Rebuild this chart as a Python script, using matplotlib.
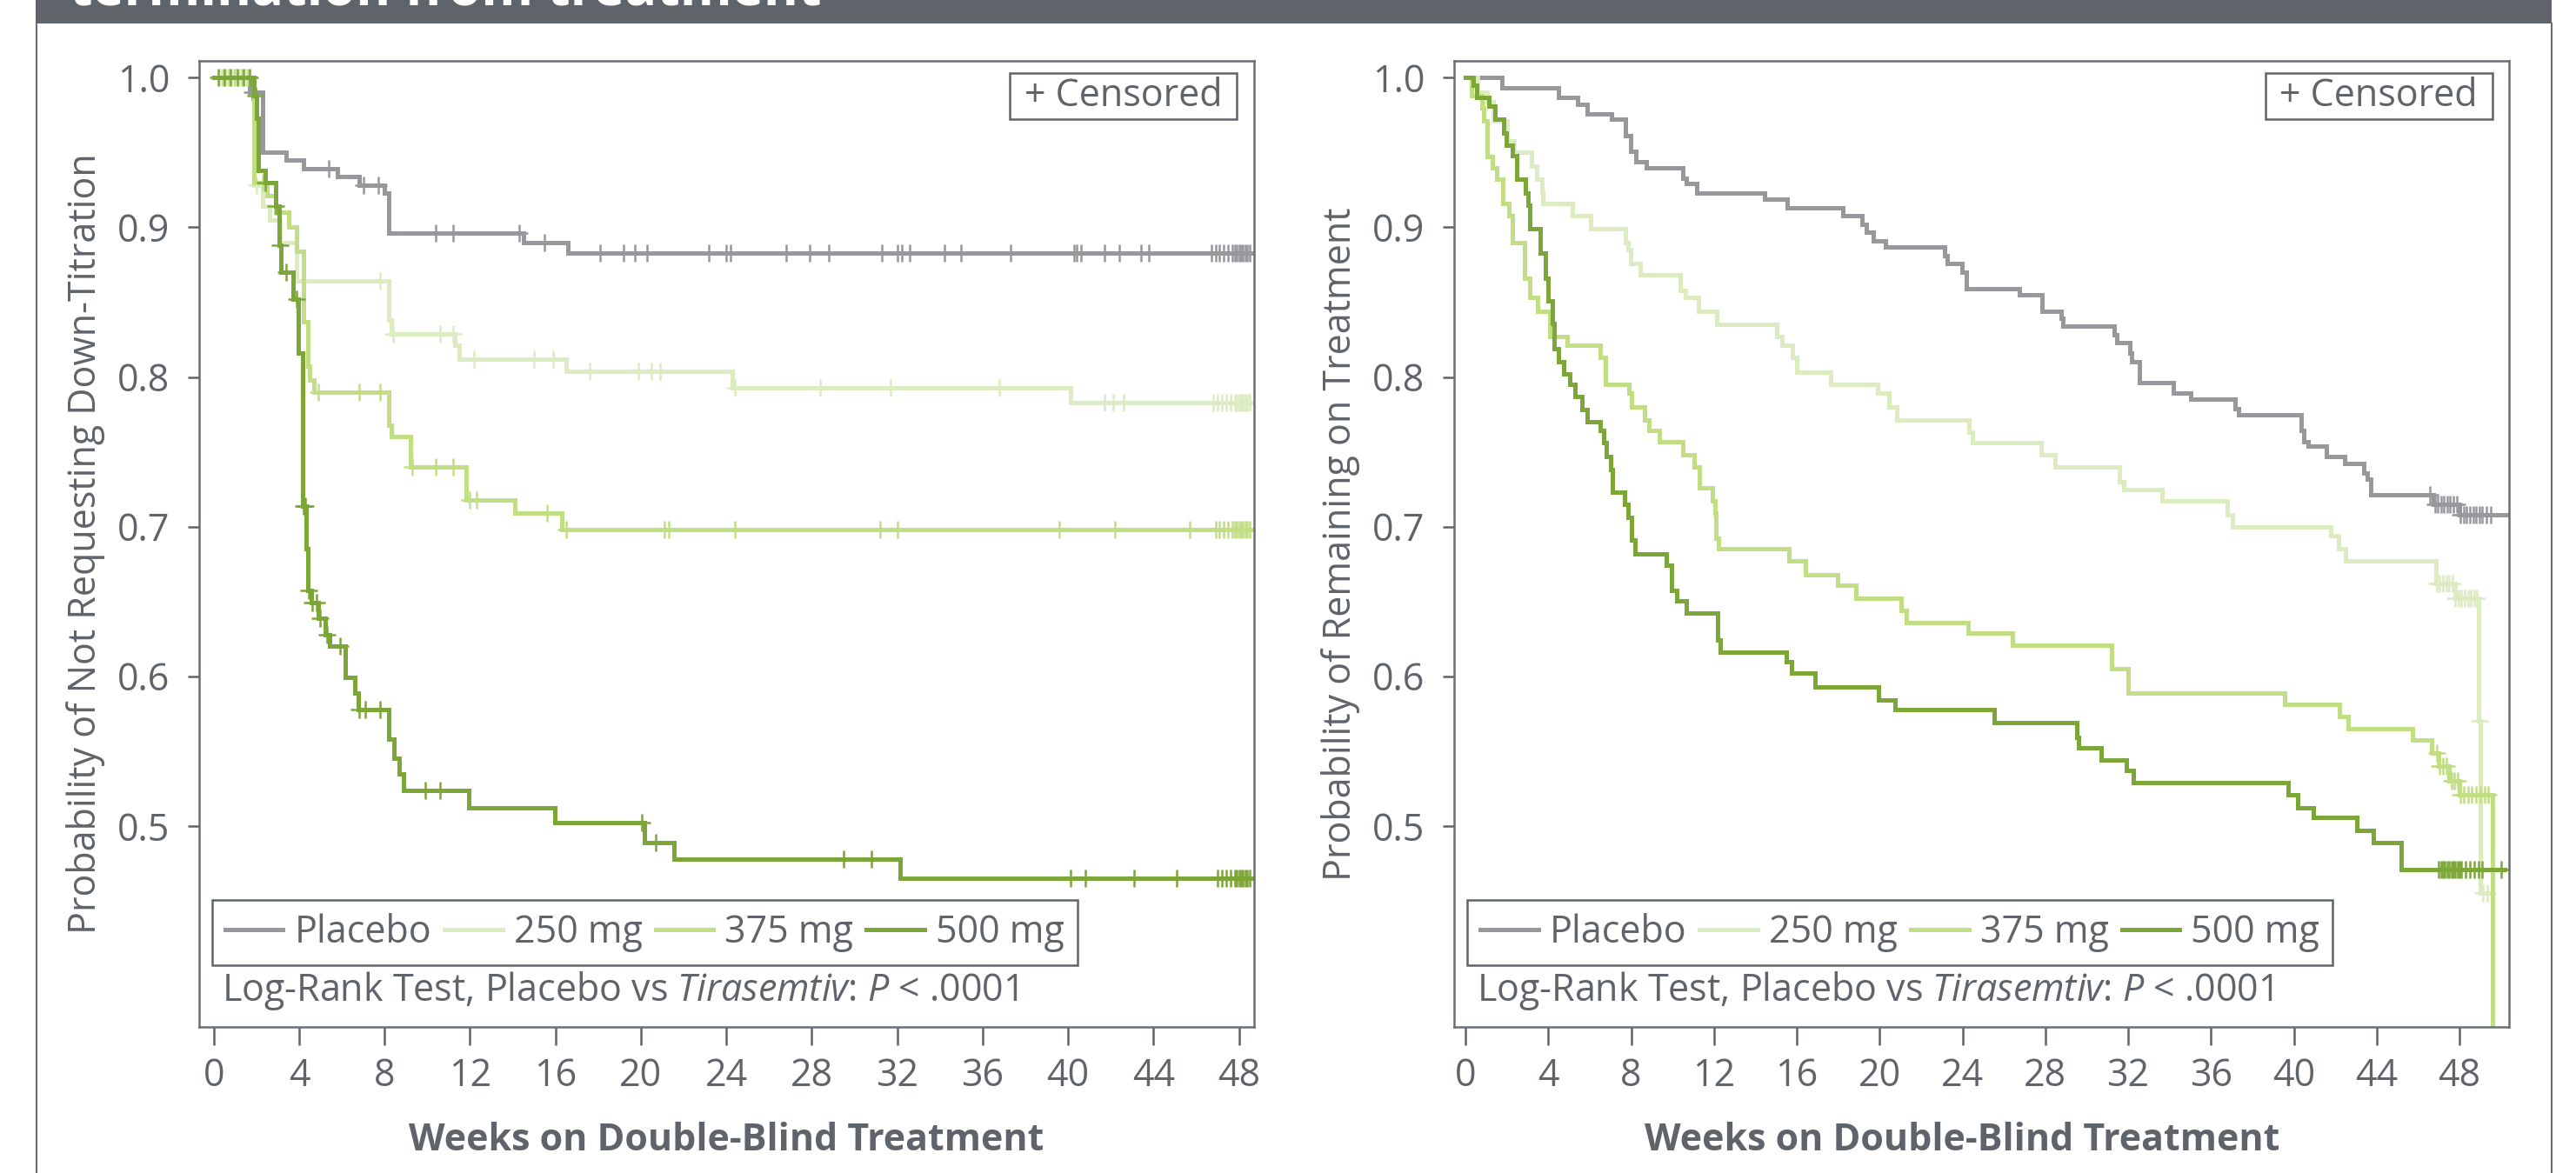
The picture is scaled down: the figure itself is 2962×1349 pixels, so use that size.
import matplotlib.pyplot as plt
import numpy as np
from matplotlib.patches import Rectangle
from matplotlib.lines import Line2D
from matplotlib.ticker import FormatStrFormatter
import matplotlib.transforms as mtransforms

plt.rcParams['font.family'] = ['Open Sans', 'DejaVu Sans']
plt.rcParams['mathtext.fontset'] = 'custom'
plt.rcParams['mathtext.rm'] = 'Open Sans'
plt.rcParams['mathtext.it'] = 'Open Sans:italic'

groups = ['Placebo', '250 mg', '375 mg', '500 mg']
colors = ['#97989c', '#dcebc0', '#c2de84', '#7ca637']
GRAY = '#5f636a'

# ---- left panel: probability of not requesting down-titration (weeks, survival)
left_placebo_t = [1.7, 2.3, 3.4, 4.2, 5.8, 6.8, 8.0, 8.2, 14.5, 16.6]
left_placebo_s = [0.990, 0.950, 0.945, 0.939, 0.934, 0.928, 0.923, 0.896, 0.890, 0.883]
left_placebo_c = [1.8, 5.4, 7.0, 7.7, 10.4, 11.2, 14.3, 15.5, 18.1, 19.2, 19.7, 20.3, 23.2, 24.0,
                  24.2, 26.8, 27.9, 28.8, 31.3, 32.0, 32.2, 32.6, 34.2, 35.0, 37.3, 40.3, 40.4,
                  40.6, 41.7, 42.4, 43.4, 43.8, 46.7, 46.9, 47.1, 47.3, 47.5, 47.7, 47.8, 47.9,
                  48.0, 48.1, 48.2, 48.3, 48.4, 48.5]

left_250_t = [1.9, 2.3, 2.6, 3.1, 3.9, 8.2, 8.3, 11.3, 11.5, 16.5, 24.3, 40.1]
left_250_s = [0.928, 0.914, 0.905, 0.890, 0.864, 0.838, 0.829, 0.821, 0.812, 0.804, 0.793, 0.783]
left_250_c = [0.3, 0.6, 0.9, 1.2, 1.5, 2.0, 7.8, 8.4, 10.6, 11.2, 12.2, 15.0, 15.9, 17.6, 19.9,
              20.5, 20.9, 24.4, 28.4, 31.7, 36.8, 41.7, 42.1, 42.6, 46.8, 47.0, 47.2, 47.4, 47.6,
              47.8, 47.9, 48.0, 48.1, 48.2, 48.3, 48.4, 48.5]

left_375_t = [1.9, 2.5, 2.9, 3.5, 3.9, 4.2, 4.4, 4.5, 4.7, 8.2, 8.3, 9.2, 11.8, 14.1, 16.3]
left_375_s = [0.930, 0.921, 0.910, 0.900, 0.884, 0.837, 0.807, 0.798, 0.790, 0.768, 0.760,
              0.740, 0.718, 0.709, 0.698]
left_375_c = [0.4, 0.7, 1.0, 1.3, 1.6, 2.3, 4.9, 6.8, 7.8, 9.3, 10.4, 11.2, 12.0, 12.3, 15.6,
              16.5, 21.1, 21.3, 24.4, 31.2, 32.0, 39.6, 42.2, 45.7, 46.9, 47.1, 47.3, 47.5, 47.7,
              47.8, 47.9, 48.0, 48.1, 48.2, 48.3, 48.4, 48.5]

left_500_t = [1.9, 2.0, 2.1, 2.4, 2.9, 3.06, 3.15, 3.7, 3.98, 4.15, 4.33, 4.39, 4.56, 4.9, 5.24,
              5.41, 6.15, 6.59, 6.76, 8.21, 8.45, 8.69, 8.89, 11.93, 15.99, 20.18, 21.57, 32.12]
left_500_s = [0.988, 0.973, 0.938, 0.930, 0.914, 0.888, 0.870, 0.852, 0.816, 0.714, 0.685, 0.6575,
              0.649, 0.639, 0.628, 0.620, 0.599, 0.589, 0.578, 0.558, 0.545, 0.535, 0.524, 0.512,
              0.502, 0.489, 0.478, 0.465]
left_500_c = [0.2, 0.5, 0.8, 1.1, 1.4, 1.7, 1.95, 2.4, 2.9, 3.1, 3.4, 3.9, 4.2, 4.3, 4.45, 4.6,
              4.8, 5.0, 5.3, 5.9, 6.8, 7.1, 7.8, 9.9, 10.6, 20.05, 20.7, 29.5, 30.8, 40.1, 40.8,
              43.1, 45.1, 47.0, 47.2, 47.4, 47.6, 47.8, 47.9, 48.0, 48.1, 48.2, 48.3, 48.4, 48.5]
left_end = [48.6, 48.6, 48.6, 48.6]

# ---- right panel: probability of remaining on treatment
right_placebo_t = [1.75, 4.49, 5.43, 5.88, 7.06, 7.71, 7.96, 8.24, 8.75, 10.49, 10.68, 11.18,
                   14.43, 15.55, 18.22, 19.15, 19.34, 19.71, 20.28, 23.15, 23.28, 23.99, 24.18,
                   26.75, 27.84, 28.75, 28.83, 31.32, 31.47, 32.07, 32.17, 32.56, 34.19, 35.04,
                   37.17, 37.31, 40.36, 40.5, 40.67, 41.57, 42.46, 43.38, 43.55, 43.73, 46.75, 48.0]
right_placebo_s = [0.993, 0.987, 0.982, 0.976, 0.972, 0.961, 0.951, 0.944, 0.940, 0.933, 0.929,
                   0.923, 0.919, 0.913, 0.908, 0.902, 0.897, 0.891, 0.887, 0.881, 0.876, 0.870,
                   0.859, 0.855, 0.844, 0.839, 0.834, 0.828, 0.823, 0.816, 0.810, 0.796, 0.789,
                   0.785, 0.779, 0.775, 0.764, 0.757, 0.754, 0.747, 0.742, 0.736, 0.732, 0.721,
                   0.715, 0.708]
right_placebo_c = [46.57, 46.8, 46.95, 47.1, 47.25, 47.4, 47.55, 47.7, 47.85, 48.05, 48.2, 48.35,
                   48.5, 48.65, 48.8, 48.95, 49.1, 49.3, 49.5]

right_250_t = [0.6, 1.06, 1.34, 2.0, 2.37, 3.21, 3.44, 3.68, 3.74, 5.18, 6.06, 7.71, 7.86, 7.99,
               8.46, 10.38, 10.62, 11.24, 12.12, 15.03, 15.27, 15.78, 16.0, 17.65, 19.9, 20.43,
               20.84, 24.3, 24.46, 27.8, 28.45, 31.59, 31.77, 33.62, 36.78, 37.05, 41.8, 42.15,
               42.5, 46.85, 47.8, 48.93, 49.0]
right_250_s = [0.990, 0.984, 0.971, 0.958, 0.950, 0.941, 0.932, 0.924, 0.916, 0.908, 0.899,
               0.890, 0.885, 0.876, 0.868, 0.858, 0.853, 0.844, 0.835, 0.827, 0.821, 0.813,
               0.803, 0.795, 0.789, 0.780, 0.771, 0.763, 0.756, 0.748, 0.740, 0.730, 0.725,
               0.717, 0.708, 0.700, 0.694, 0.685, 0.677, 0.662, 0.652, 0.570, 0.455]
right_250_c = [46.9, 47.05, 47.2, 47.35, 47.5, 47.65, 47.8, 47.95, 48.1, 48.25, 48.4, 48.55,
               48.7, 48.85, 48.96, 49.15, 49.35]

right_375_t = [0.31, 0.78, 0.87, 1.06, 1.30, 1.53, 1.81, 2.09, 2.28, 2.84, 3.12, 3.49, 4.06, 4.9,
               6.5, 6.74, 7.9, 8.0, 8.65, 8.88, 9.36, 10.49, 11.05, 11.28, 11.93, 12.03, 12.1,
               12.2, 15.6, 16.4, 17.96, 18.84, 21.02, 21.3, 24.29, 26.4, 31.21, 31.98, 39.57,
               42.21, 42.63, 45.72, 46.67, 47.0, 47.5, 48.0, 49.6]
right_375_s = [0.988, 0.980, 0.971, 0.947, 0.940, 0.932, 0.916, 0.908, 0.890, 0.866, 0.853,
               0.844, 0.827, 0.821, 0.813, 0.795, 0.789, 0.780, 0.771, 0.764, 0.757, 0.748,
               0.740, 0.726, 0.717, 0.709, 0.692, 0.685, 0.677, 0.668, 0.661, 0.652, 0.644,
               0.636, 0.629, 0.621, 0.605, 0.589, 0.581, 0.573, 0.565, 0.5575, 0.549, 0.540,
               0.530, 0.521, 0.0]
right_375_c = [46.9, 47.05, 47.2, 47.35, 47.6, 47.75, 47.9, 48.05, 48.2, 48.4, 48.6, 48.8, 49.0,
               49.2, 49.4]

right_500_t = [0.36, 0.55, 1.15, 1.43, 1.86, 1.99, 2.28, 2.46, 2.88, 3.03, 3.12, 3.59, 3.87, 4.0,
               4.19, 4.28, 4.49, 4.75, 5.05, 5.31, 5.61, 5.88, 6.5, 6.68, 6.81, 7.0, 7.11, 7.68,
               7.86, 8.0, 8.19, 9.7, 9.95, 10.2, 10.65, 12.16, 12.3, 15.5, 15.75, 16.87, 19.96,
               20.74, 25.52, 29.53, 29.6, 30.68, 31.91, 32.27, 39.71, 40.17, 40.94, 43.05, 43.86,
               45.19]
right_500_s = [0.995, 0.987, 0.981, 0.972, 0.963, 0.955, 0.948, 0.932, 0.923, 0.915, 0.899,
               0.883, 0.866, 0.851, 0.836, 0.819, 0.810, 0.802, 0.795, 0.787, 0.778, 0.770,
               0.764, 0.756, 0.747, 0.738, 0.723, 0.715, 0.706, 0.691, 0.682, 0.674, 0.6575,
               0.6506, 0.642, 0.624, 0.616, 0.610, 0.602, 0.593, 0.584, 0.578, 0.569, 0.559,
               0.552, 0.544, 0.537, 0.529, 0.5206, 0.512, 0.5056, 0.497, 0.489, 0.471]
right_500_c = [47.0, 47.1, 47.2, 47.3, 47.4, 47.5, 47.6, 47.7, 47.8, 47.9, 48.0, 48.1, 48.3, 48.5,
               48.7, 48.9, 49.1, 50.0]
right_end = [50.4, 49.4, 49.6, 50.2]

left_curves = [(left_placebo_t, left_placebo_s, left_placebo_c),
               (left_250_t, left_250_s, left_250_c),
               (left_375_t, left_375_s, left_375_c),
               (left_500_t, left_500_s, left_500_c)]
right_curves = [(right_placebo_t, right_placebo_s, right_placebo_c),
                (right_250_t, right_250_s, right_250_c),
                (right_375_t, right_375_s, right_375_c),
                (right_500_t, right_500_s, right_500_c)]

W, H = 2962, 1349
fig = plt.figure(figsize=(W / 100, H / 100), dpi=100)


def fx(px):
    return px / W


def fy(py):
    return 1 - py / H


# banner strip (title cut off at the top, as in the source) and frame
fig.patches.append(Rectangle((fx(41), fy(27.3)), fx(2934) - fx(41), 27.3 / H,
                             transform=fig.transFigure, facecolor='#5f636a', edgecolor='none'))
for xp in (41.5, 2933.5):
    fig.add_artist(Line2D([fx(xp), fx(xp)], [0, fy(27)], transform=fig.transFigure,
                          color='#6b6e74', lw=1.5))
fig.text(fx(80), fy(6), 'termination from treatment', color='white', fontsize=44,
         fontweight='bold', va='baseline', ha='left')


def km_step(times, surv, end):
    t = np.r_[0.0, times, end]
    s = np.r_[1.0, surv, surv[-1]]
    return t, s


def km_at(times, surv, ct):
    idx = np.searchsorted(np.asarray(times), np.asarray(ct), side='right')
    return np.r_[1.0, surv][idx]


def draw_panel(ax, curves, ends, xlim, ylabel, spine_px):
    for (t, s, c), end, col in zip(curves, ends, colors):
        tx, sy = km_step(t, s, end)
        ax.step(tx, sy, where='post', color=col, lw=3.6, solid_joinstyle='miter')
        ax.plot(c, km_at(t, s, c), ls='none', marker='+', ms=15, mew=1.8, color=col)

    ax.set_xlim(*xlim)
    ax.set_ylim(0.3657, 1.0112)
    ax.set_xticks(range(0, 49, 4))
    ax.set_yticks([0.5, 0.6, 0.7, 0.8, 0.9, 1.0])
    ax.yaxis.set_major_formatter(FormatStrFormatter('%.1f'))
    ax.tick_params(axis='y', length=9.5, width=1.8, pad=15, labelsize=31, color=GRAY,
                   labelcolor=GRAY)
    ax.tick_params(axis='x', length=15, width=1.8, pad=10, labelsize=31, color=GRAY,
                   labelcolor=GRAY)
    for sp in ax.spines.values():
        sp.set_color('#6b6e74')
        sp.set_linewidth(1.8)

    trans = mtransforms.blended_transform_factory(ax.transData, ax.transAxes)
    ax.text(24, -0.1278, 'Weeks on Double-Blind Treatment', transform=trans, ha='center',
            va='baseline', fontsize=31, fontweight='bold', color=GRAY)
    fig.text(fx(spine_px - 130.5), fy(625.5), ylabel, rotation=90, ha='center', va='center',
             fontsize=31, color=GRAY)

    # censored key box
    ax.add_patch(Rectangle((0.769, 0.940), 0.215, 0.047, transform=ax.transAxes, fill=False,
                           ec=GRAY, lw=1.8))
    ax.text(0.8765, 0.9635, '+ Censored', transform=ax.transAxes, ha='center', va='center',
            fontsize=31, color=GRAY)

    handles = [Line2D([], [], color=c, lw=3.6) for c in colors]
    leg = ax.legend(handles, groups, ncol=4, loc='upper left', bbox_to_anchor=(0.012, 0.1314),
                    frameon=True, fancybox=False, edgecolor=GRAY, framealpha=1, fontsize=31,
                    handlelength=1.55, handletextpad=0.3, columnspacing=0.35, borderpad=0.35,
                    borderaxespad=0, labelcolor=GRAY)
    leg.get_frame().set_linewidth(1.8)

    ax.text(0.0214, 0.0153, r'Log-Rank Test, Placebo vs $\mathit{Tirasemtiv}$: $\mathit{P}$ < .0001',
            transform=ax.transAxes, ha='left', va='bottom', fontsize=31, color=GRAY)


ax1 = fig.add_axes([fx(229), fy(1181), fx(1441.5) - fx(229), fy(70) - fy(1181)])
ax2 = fig.add_axes([fx(1672.4), fy(1181), fx(2885) - fx(1672.4), fy(70) - fy(1181)])

draw_panel(ax1, left_curves, left_end, (-0.68, 48.69),
           'Probability of Not Requesting Down-Titration', 229)
draw_panel(ax2, right_curves, right_end, (-0.53, 50.39),
           'Probability of Remaining on Treatment', 1672.4)

fig.savefig('out.png', dpi=100)
